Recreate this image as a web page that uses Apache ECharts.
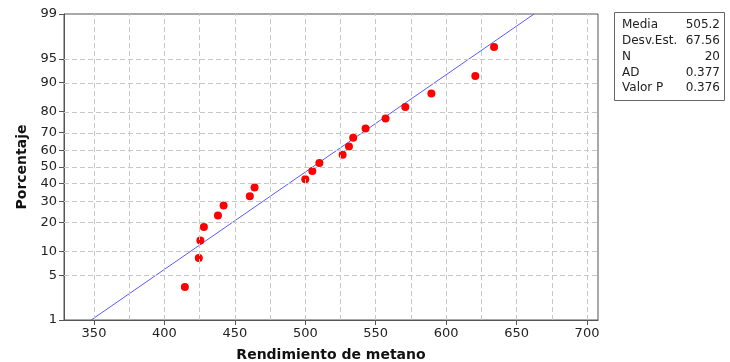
<!DOCTYPE html>
<html>
<head>
<meta charset="utf-8">
<script src="https://cdn.jsdelivr.net/npm/echarts@6/dist/echarts.min.js"></script>
<style>
  html, body { margin: 0; padding: 0; background: #fff; }
  #chart { width: 730px; height: 362px; }
</style>
</head>
<body>
<div id="chart"></div>
<script>
const rendimiento = [414.5, 424.4, 425.5, 428, 438, 442, 460.6, 464, 500, 505, 510, 526.5, 531, 534, 542.8, 557, 571, 589.5, 620.7, 634];
const porcentaje = [3.4, 8.3, 13.2, 18.1, 23.0, 27.9, 32.8, 37.7, 42.6, 47.5, 52.5, 57.4, 62.3, 67.2, 72.1, 77.0, 81.9, 86.8, 91.7, 96.6];

// fitted line ends
const lineX = [348, 662.4];
const lineP = [1, 99];

const yTicks = [1, 5, 10, 20, 30, 40, 50, 60, 70, 80, 90, 95, 99];
const xTicks = [350, 400, 450, 500, 550, 600, 650, 700];
const xGrid = [350, 375, 400, 425, 450, 475, 500, 525, 550, 575, 600, 625, 650, 675, 700];

const statNames = ['Media', 'Desv.Est.', 'N', 'AD', 'Valor P'];
const statValues = ['505.2', '67.56', '20', '0.377', '0.376'];

// inverse normal cdf (Acklam) for the probability scale
function probit(p) {
    const a = [-3.969683028665376e+01, 2.209460984245205e+02, -2.759285104469687e+02, 1.383577518672690e+02, -3.066479806614716e+01, 2.506628277459239e+00];
    const b = [-5.447609879822406e+01, 1.615858368580409e+02, -1.556989798598866e+02, 6.680131188771972e+01, -1.328068155288572e+01];
    const c = [-7.784894002430293e-03, -3.223964580411365e-01, -2.400758277161838e+00, -2.549732539343734e+00, 4.374664141464968e+00, 2.938163982698783e+00];
    const d = [7.784695709041462e-03, 3.224671290700398e-01, 2.445134137142996e+00, 3.754408661907416e+00];
    const pl = 0.02425;
    let q, r;
    if (p < pl) {
        q = Math.sqrt(-2 * Math.log(p));
        return (((((c[0] * q + c[1]) * q + c[2]) * q + c[3]) * q + c[4]) * q + c[5]) / ((((d[0] * q + d[1]) * q + d[2]) * q + d[3]) * q + 1);
    }
    if (p > 1 - pl) {
        q = Math.sqrt(-2 * Math.log(1 - p));
        return -(((((c[0] * q + c[1]) * q + c[2]) * q + c[3]) * q + c[4]) * q + c[5]) / ((((d[0] * q + d[1]) * q + d[2]) * q + d[3]) * q + 1);
    }
    q = p - 0.5;
    r = q * q;
    return (((((a[0] * r + a[1]) * r + a[2]) * r + a[3]) * r + a[4]) * r + a[5]) * q / (((((b[0] * r + b[1]) * r + b[2]) * r + b[3]) * r + b[4]) * r + 1);
}
const z = (pct) => probit(pct / 100);

const yMin = z(1), yMax = z(99);
const yTickZ = yTicks.map(z);

const font = 'DejaVu Sans';
const gridStyle = { color: '#c8c8c8', type: [5, 3], width: 1 };

const option = {
    animation: false,
    backgroundColor: '#fff',
    grid: {
        left: 64, right: 132, top: 14, bottom: 42,
        outerBoundsMode: 'none',
        show: true, borderColor: '#555', borderWidth: 1, backgroundColor: 'transparent'
    },
    xAxis: {
        type: 'value',
        min: 328.7,
        max: 707.8,
        name: 'Rendimiento de metano',
        nameLocation: 'middle',
        nameGap: 28,
        nameTextStyle: { fontFamily: font, fontSize: 14, fontWeight: 'bold', color: '#111' },
        axisLine: { show: true, onZero: false, lineStyle: { color: '#555' } },
        axisTick: { show: true, length: 5, customValues: xTicks, lineStyle: { color: '#555' } },
        axisLabel: { customValues: xTicks, fontFamily: font, fontSize: 13, color: '#222', margin: 7 },
        splitLine: { show: false }
    },
    yAxis: {
        type: 'value',
        min: yMin,
        max: yMax,
        name: 'Porcentaje',
        nameLocation: 'middle',
        nameGap: 34,
        nameRotate: 90,
        nameTextStyle: { fontFamily: font, fontSize: 14, fontWeight: 'bold', color: '#111' },
        axisLine: { show: true, onZero: false, lineStyle: { color: '#555' } },
        axisTick: { show: true, length: 5, customValues: yTickZ, lineStyle: { color: '#555' } },
        axisLabel: {
            customValues: yTickZ, fontFamily: font, fontSize: 13, color: '#222', margin: 7,
            formatter: (v) => {
                let best = 0;
                yTickZ.forEach((t, i) => { if (Math.abs(t - v) < Math.abs(yTickZ[best] - v)) best = i; });
                return String(yTicks[best]);
            }
        },
        splitLine: { show: false }
    },
    series: [
        {
            name: 'grid',
            type: 'line',
            data: [],
            silent: true,
            markLine: {
                silent: true,
                symbol: 'none',
                label: { show: false },
                lineStyle: gridStyle,
                data: xGrid.map(v => ({ xAxis: v }))
                    .concat(yTickZ.slice(1, -1).map(v => ({ yAxis: v })))
            }
        },
        {
            name: 'ajuste',
            type: 'line',
            data: lineX.map((x, i) => [x, z(lineP[i])]),
            symbol: 'none',
            lineStyle: { color: '#5a5aff', width: 1 },
            z: 3
        },
        {
            name: 'datos',
            type: 'scatter',
            data: rendimiento.map((x, i) => [x, z(porcentaje[i])]),
            symbolSize: 8,
            itemStyle: { color: '#ff0000', opacity: 1 },
            z: 4
        }
    ],
    graphic: [
        {
            type: 'rect',
            shape: { x: 614.5, y: 12.5, width: 110, height: 88 },
            style: { fill: '#fff', stroke: '#666', lineWidth: 1 }
        }
    ].concat(statNames.map((n, i) => ({
        type: 'text',
        x: 622, y: 25 + i * 15.8,
        style: { text: n, fontFamily: font, fontSize: 12, fill: '#222', verticalAlign: 'middle' }
    }))).concat(statValues.map((v, i) => ({
        type: 'text',
        x: 720, y: 25 + i * 15.8,
        style: { text: v, fontFamily: font, fontSize: 12, fill: '#222', align: 'right', verticalAlign: 'middle' }
    })))
};

const chart = echarts.init(document.getElementById('chart'));
chart.setOption(option);
</script>
</body>
</html>
